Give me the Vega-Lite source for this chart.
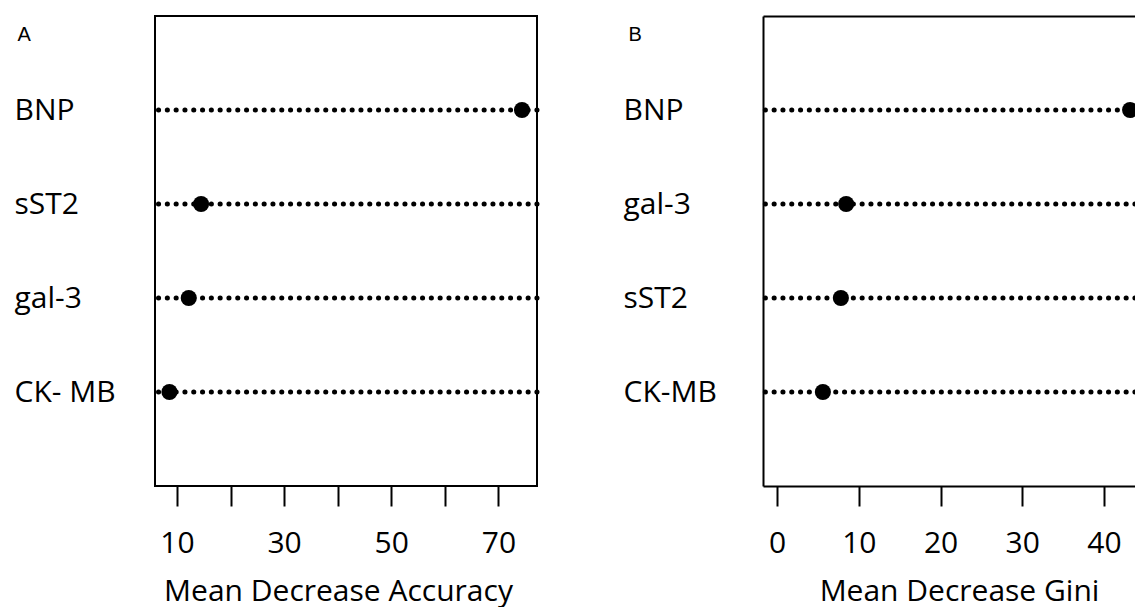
{
  "$schema": "https://vega.github.io/schema/vega-lite/v6.json",
  "background": "white",
  "padding": {"left": 13, "top": 15, "right": 0, "bottom": 0},
  "spacing": 82,
  "config": {
    "font": "Open Sans",
    "view": {"stroke": "#000", "strokeWidth": 2},
    "axis": {
      "labelFont": "Open Sans", "labelFontSize": 30, "labelColor": "#000",
      "titleFont": "Open Sans", "titleFontSize": 30, "titleFontWeight": "normal", "titleColor": "#000",
      "grid": false, "tickColor": "#000", "tickWidth": 2, "domainColor": "#000", "domainWidth": 2
    }
  },
  "hconcat": [
    {
      "width": 382,
      "height": 470,
      "data": {"values": [
        {"var": "BNP", "val": 74.4},
        {"var": "sST2", "val": 14.5},
        {"var": "gal-3", "val": 12.2},
        {"var": "CK- MB", "val": 8.6}
      ]},
      "layer": [
        {
          "mark": {"type": "rule", "strokeDash": [0.1, 8.7], "strokeCap": "round", "strokeWidth": 5, "color": "#000"},
          "encoding": {
            "y": {"field": "var", "type": "nominal", "sort": null,
              "scale": {"type": "point", "padding": 1, "domain": ["BNP", "sST2", "gal-3", "CK- MB"]},
              "axis": {"title": "A", "titleFont": "Liberation Sans", "titleFontSize": 20, "titleFontWeight": "normal", "titleAngle": 0,
                "titleAlign": "left", "titleBaseline": "alphabetic", "titleX": -138, "titleY": 24,
                "labelAlign": "left", "labelPadding": 141, "ticks": false, "domain": false, "labelBaseline": "middle", "labelDy": 1}}
          }
        },
        {
          "mark": {"type": "point", "filled": true, "size": 260, "color": "#000", "opacity": 1},
          "encoding": {
            "x": {"field": "val", "type": "quantitative",
              "scale": {"domain": [5.9, 77.2], "nice": false, "zero": false},
              "axis": {"title": "Mean Decrease Accuracy", "values": [10, 20, 30, 40, 50, 60, 70],
                "labelExpr": "datum.value % 20 == 10 ? datum.label : ''",
                "tickSize": 20, "labelPadding": 22, "titlePadding": 18, "domain": false,
                "titleX": 183, "labelFlush": false, "labelOverlap": false}},
            "y": {"field": "var", "type": "nominal", "sort": null}
          }
        }
      ]
    },
    {
      "width": 372,
      "height": 470,
      "view": {"stroke": null},
      "data": {"values": [
        {"var": "BNP", "val": 43.2},
        {"var": "gal-3", "val": 8.45},
        {"var": "sST2", "val": 7.8},
        {"var": "CK-MB", "val": 5.6}
      ]},
      "resolve": {"axis": {"x": "independent"}},
      "layer": [
        {
          "mark": {"type": "rule", "strokeDash": [0.1, 8.7], "strokeCap": "round", "strokeWidth": 5, "color": "#000"},
          "encoding": {
            "y": {"field": "var", "type": "nominal", "sort": null,
              "scale": {"type": "point", "padding": 1, "domain": ["BNP", "gal-3", "sST2", "CK-MB"]},
              "axis": {"title": "B", "titleFont": "Liberation Sans", "titleFontSize": 20, "titleFontWeight": "normal", "titleAngle": 0,
                "titleAlign": "left", "titleBaseline": "alphabetic", "titleX": -135, "titleY": 24,
                "labelAlign": "left", "labelPadding": 140, "ticks": false, "domain": true, "labelBaseline": "middle", "labelDy": 1}}
          }
        },
        {
          "mark": {"type": "point", "filled": true, "size": 260, "color": "#000", "opacity": 1, "clip": true},
          "encoding": {
            "x": {"field": "val", "type": "quantitative",
              "scale": {"domain": [-1.73, 43.8], "nice": false, "zero": false},
              "axis": {"title": "Mean Decrease Gini", "values": [0, 10, 20, 30, 40],
                "tickSize": 20, "labelPadding": 22, "titlePadding": 18, "domain": true,
                "titleX": 196, "labelFlush": false, "labelOverlap": false}},
            "y": {"field": "var", "type": "nominal", "sort": null}
          }
        },
        {
          "mark": {"type": "point", "filled": true, "size": 1, "opacity": 0, "clip": true},
          "encoding": {
            "x": {"field": "val", "type": "quantitative",
              "axis": {"orient": "top", "labels": false, "ticks": false, "title": null, "domain": true}},
            "y": {"field": "var", "type": "nominal", "sort": null}
          }
        }
      ]
    }
  ]
}
